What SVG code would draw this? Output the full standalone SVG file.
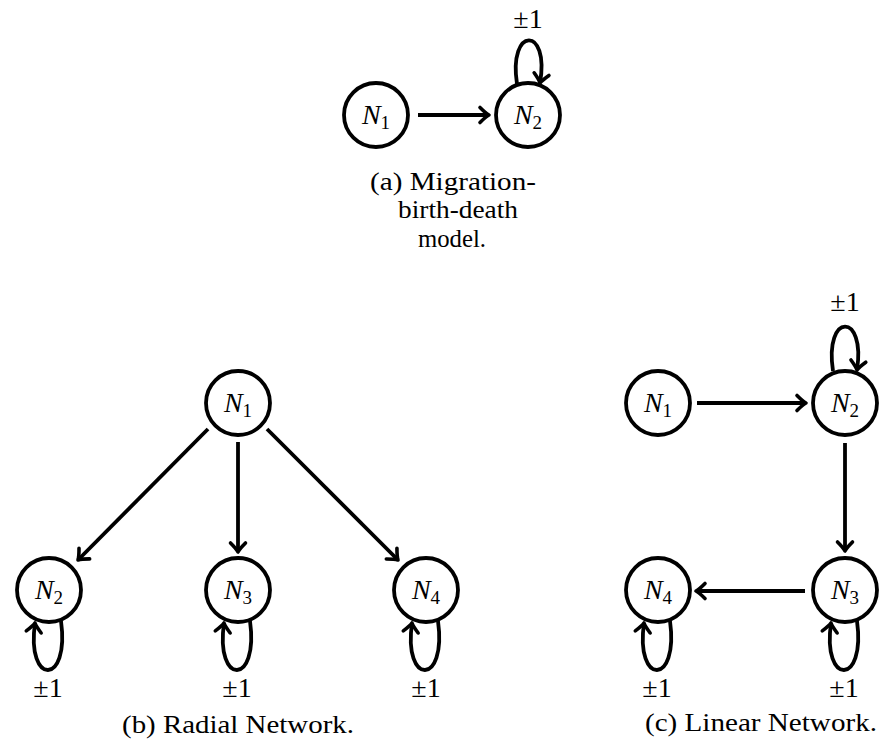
<svg xmlns="http://www.w3.org/2000/svg" width="879" height="744" viewBox="0 0 879 744">
<style>
.node circle{fill:#fff;stroke:#000;stroke-width:3.8}
text{font-family:'Liberation Serif','DejaVu Serif','Times New Roman',Times,serif}
.lbl{font-size:28px;font-style:italic;text-anchor:middle}
.sub{font-size:19px;font-style:normal}
.pm{font-size:28px;text-anchor:middle}
.cap{font-size:25px;text-anchor:middle}
.edges path{fill:none;stroke:#000;stroke-width:3.8;marker-end:url(#ah)}
</style>
<defs>
<marker id="ah" markerUnits="userSpaceOnUse" markerWidth="20" markerHeight="20" viewBox="-12 -10 14 20" refX="0" refY="0" orient="auto" overflow="visible">
<path d="M -9 -7.5 Q -3 -1.5 0 0 Q -3 1.5 -9 7.5" fill="none" stroke="#000" stroke-width="3.6" stroke-linecap="round" stroke-linejoin="round"/>
</marker>
</defs>
<rect width="879" height="744" fill="#fff"/>
<g class="edges" id="connectors">
<path d="M 418 115 L 489 115"/>
<path d="M 517 84 C 508 26, 550 26, 540 83"/>
<path d="M 208 429 L 78 560"/>
<path d="M 238 442 L 238 552"/>
<path d="M 267 429 L 398 560"/>
<path d="M 61 621 C 70 686, 26 686, 35 623"/>
<path d="M 250 621 C 259 686, 215 686, 224 623"/>
<path d="M 438 621 C 447 686, 403 686, 412 623"/>
<path d="M 697 403 L 806 403"/>
<path d="M 833 371 C 824 312, 866 312, 857 370"/>
<path d="M 845 443 L 845 551"/>
<path d="M 805 591 L 696 591"/>
<path d="M 857 621 C 866 686, 822 686, 831 623"/>
<path d="M 670 621 C 679 686, 635 686, 644 623"/>
</g>
<g id="a-N1" class="node"><circle cx="376" cy="115" r="32"/><text class="lbl" x="376" y="124">N<tspan class="sub" dy="5">1</tspan></text></g>
<g id="a-N2" class="node"><circle cx="528" cy="115" r="32"/><text class="lbl" x="528" y="124">N<tspan class="sub" dy="5">2</tspan></text></g>
<text class="pm" x="528" y="28">±1</text>
<g id="a-caption"><text class="cap" x="453" y="190" textLength="166" lengthAdjust="spacingAndGlyphs">(a) Migration-</text><text class="cap" x="458" y="218" textLength="120" lengthAdjust="spacingAndGlyphs">birth-death</text><text class="cap" x="452" y="247" textLength="68" lengthAdjust="spacingAndGlyphs">model.</text></g>
<g id="b-N1" class="node"><circle cx="238" cy="403" r="32"/><text class="lbl" x="238" y="412">N<tspan class="sub" dy="5">1</tspan></text></g>
<g id="b-N2" class="node"><circle cx="49" cy="590" r="32"/><text class="lbl" x="49" y="599">N<tspan class="sub" dy="5">2</tspan></text></g>
<g id="b-N3" class="node"><circle cx="238" cy="590" r="32"/><text class="lbl" x="238" y="599">N<tspan class="sub" dy="5">3</tspan></text></g>
<g id="b-N4" class="node"><circle cx="426" cy="590" r="32"/><text class="lbl" x="426" y="599">N<tspan class="sub" dy="5">4</tspan></text></g>
<text class="pm" x="48" y="697">±1</text>
<text class="pm" x="237" y="697">±1</text>
<text class="pm" x="426" y="697">±1</text>
<text class="cap" x="238" y="733" textLength="232" lengthAdjust="spacingAndGlyphs">(b) Radial Network.</text>
<g id="c-N1" class="node"><circle cx="658" cy="403" r="32"/><text class="lbl" x="658" y="412">N<tspan class="sub" dy="5">1</tspan></text></g>
<g id="c-N2" class="node"><circle cx="845" cy="403" r="32"/><text class="lbl" x="845" y="412">N<tspan class="sub" dy="5">2</tspan></text></g>
<g id="c-N3" class="node"><circle cx="845" cy="590" r="32"/><text class="lbl" x="845" y="599">N<tspan class="sub" dy="5">3</tspan></text></g>
<g id="c-N4" class="node"><circle cx="658" cy="590" r="32"/><text class="lbl" x="658" y="599">N<tspan class="sub" dy="5">4</tspan></text></g>
<text class="pm" x="845" y="311">±1</text>
<text class="pm" x="844" y="697">±1</text>
<text class="pm" x="657" y="697">±1</text>
<text class="cap" x="761" y="731" textLength="232" lengthAdjust="spacingAndGlyphs">(c) Linear Network.</text>
</svg>
